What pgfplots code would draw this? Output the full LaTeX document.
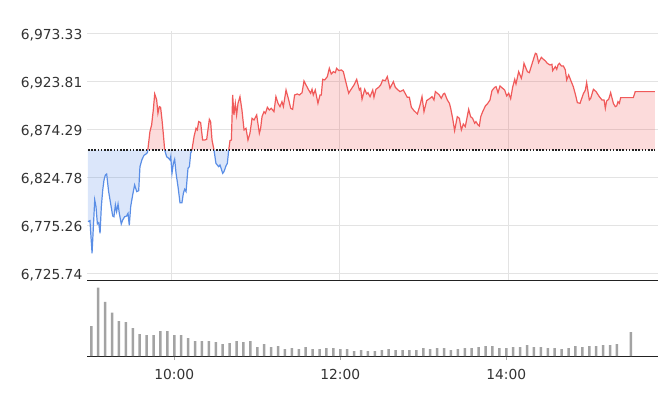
\documentclass[border=0pt]{standalone}
\usepackage{pgfplots}
\pgfplotsset{compat=1.18}
\usepackage{pgfplotstable}
\usepackage{fontspec}
\setmainfont{DejaVu Sans}

\definecolor{upred}{HTML}{F05A5A}
\definecolor{downblue}{HTML}{5A8EE6}
\definecolor{gridgray}{HTML}{E3E3E3}
\definecolor{bargray}{HTML}{A3A3A3}
\definecolor{labelgray}{HTML}{333333}
\definecolor{axisblack}{HTML}{222222}
\definecolor{tickgray}{HTML}{AAAAAA}
\newcommand\lbl{\fontsize{13.8}{16}\selectfont}

% minutes after 9:00, index value; each run starts and ends on the previous close
% (first row of a run is only there to close the fill)
\pgfplotstableread{
m v
0.7 6852.8
0.7 6778.8
2.1 6779.8
3.6 6746.1
5.5 6801.2
6.4 6794.3
7.4 6776.4
8.3 6777.7
9.3 6766.7
10.2 6794.3
11.2 6811.5
12.1 6821.8
13.1 6827.0
14.0 6828.0
15.4 6809.8
16.4 6801.2
18.3 6784.6
19.2 6783.9
20.2 6796.0
21.1 6789.1
22.1 6797.0
23.0 6787.4
24.4 6776.4
25.4 6780.5
26.8 6783.9
28.2 6784.6
29.2 6787.4
30.1 6775.0
31.1 6794.3
32.5 6806.3
33.9 6816.7
35.4 6809.8
36.8 6810.8
37.7 6835.6
39.2 6843.2
40.6 6847.3
42.0 6848.7
43.0 6850.1
43.3 6852.8
}\downA

\pgfplotstableread{
m v
43.3 6852.8
44.8 6871.8
46.0 6878.6
47.2 6894.1
48.2 6910.7
49.6 6904.5
50.5 6890.7
51.5 6897.6
52.4 6896.9
53.4 6883.8
54.3 6870.0
55.3 6852.8
}\upA

\pgfplotstableread{
m v
55.3 6852.8
56.7 6845.9
58.1 6844.2
59.1 6842.5
59.6 6845.9
60.5 6828.7
61.5 6839.0
62.4 6843.2
63.4 6828.7
64.8 6814.9
66.2 6798.4
67.6 6798.4
68.6 6808.0
69.5 6812.2
70.5 6809.8
71.9 6833.9
72.9 6835.6
73.8 6849.4
74.7 6852.8
}\downB

\pgfplotstableread{
m v
74.7 6852.8
76.2 6866.6
77.6 6875.2
78.5 6873.5
79.5 6882.1
80.9 6881.1
82.3 6863.1
83.8 6863.1
85.2 6863.8
86.1 6873.5
87.1 6884.5
88.0 6882.1
89.0 6863.1
90.4 6852.8
}\upB

\pgfplotstableread{
m v
90.4 6852.8
91.8 6839.0
93.7 6835.6
94.7 6837.3
96.6 6828.7
97.5 6830.4
99.0 6836.6
99.9 6839.0
100.9 6852.8
}\downC

\pgfplotstableread{
m v
404.3 6852.8
100.9 6852.8
101.8 6862.5
102.8 6863.1
103.7 6909.6
104.6 6889.0
105.6 6901.0
106.5 6889.0
107.5 6901.0
108.9 6907.9
110.3 6894.1
111.8 6873.5
113.2 6875.2
114.6 6863.1
116.0 6870.0
117.5 6885.5
118.9 6883.8
120.8 6889.0
122.7 6870.0
123.6 6875.2
124.6 6887.2
126.0 6892.4
127.0 6890.7
128.4 6896.9
129.8 6894.1
131.2 6895.9
133.1 6892.4
134.5 6907.9
136.0 6901.0
137.4 6897.6
138.8 6902.7
139.8 6897.6
141.7 6914.8
143.6 6904.5
145.0 6895.9
146.4 6894.8
147.8 6909.6
149.7 6910.7
151.2 6909.6
153.1 6912.0
154.5 6924.1
155.9 6920.0
157.8 6914.8
159.2 6911.4
160.2 6915.5
161.1 6909.6
162.5 6914.8
164.4 6901.0
165.9 6909.6
166.8 6909.6
167.8 6925.8
169.2 6925.1
171.1 6928.6
172.5 6937.2
173.9 6931.3
175.4 6933.7
176.8 6932.7
177.7 6937.2
179.2 6934.8
181.1 6935.5
182.5 6933.7
183.9 6925.1
186.3 6911.4
187.7 6914.8
190.1 6920.0
192.0 6925.8
193.9 6914.8
194.8 6916.5
195.8 6905.2
197.7 6915.5
199.1 6910.7
200.0 6912.0
201.5 6907.9
203.4 6914.8
204.3 6907.2
205.7 6915.5
207.6 6917.5
209.1 6920.0
210.5 6925.1
212.4 6924.4
213.8 6928.6
215.7 6916.5
218.1 6923.4
219.5 6917.5
221.4 6914.8
222.8 6913.1
225.2 6914.8
228.0 6907.2
229.5 6907.2
230.9 6896.9
232.8 6893.4
235.2 6890.0
237.1 6899.3
238.5 6907.9
239.9 6892.4
241.8 6903.8
244.2 6906.2
245.6 6907.9
247.0 6904.5
248.0 6913.1
249.4 6911.4
250.8 6909.6
252.2 6906.2
253.7 6910.7
254.6 6911.4
256.5 6904.5
258.0 6901.0
258.9 6895.9
260.3 6885.5
261.7 6872.8
263.6 6887.2
265.1 6885.5
266.5 6873.5
267.9 6879.7
269.3 6876.9
271.7 6894.8
273.1 6887.2
274.5 6885.5
276.0 6880.4
276.9 6882.1
278.4 6878.6
279.3 6877.6
280.3 6887.2
281.7 6892.4
283.6 6898.3
285.0 6900.3
286.9 6904.5
288.3 6914.1
290.2 6917.5
291.2 6918.2
292.6 6912.0
294.0 6918.9
295.9 6916.5
297.3 6914.8
298.8 6908.6
300.2 6911.4
301.6 6905.8
303.0 6917.5
304.5 6925.8
305.4 6921.0
307.3 6933.7
309.2 6926.9
310.1 6932.7
311.1 6942.3
313.5 6933.7
314.9 6932.7
317.3 6944.1
319.2 6952.7
320.1 6952.0
321.5 6943.0
323.4 6948.5
324.9 6946.5
326.3 6944.8
327.7 6942.3
329.6 6940.6
331.0 6941.3
331.5 6934.8
333.4 6938.9
334.4 6936.1
335.3 6940.6
336.3 6942.3
337.7 6939.6
339.1 6939.6
340.5 6935.5
341.5 6925.1
342.9 6930.3
344.3 6925.1
346.2 6918.2
347.6 6910.7
349.1 6901.7
351.0 6901.0
351.4 6902.7
353.3 6910.7
354.8 6914.8
355.7 6922.4
357.6 6904.5
358.6 6906.2
360.5 6915.5
362.4 6913.1
364.7 6907.9
366.6 6904.5
368.1 6904.5
369.0 6895.9
369.9 6903.4
371.4 6905.2
372.8 6912.0
374.7 6901.0
376.1 6897.6
377.1 6898.3
378.0 6902.7
379.0 6901.0
379.9 6906.9
388.9 6906.9
390.3 6913.1
404.3 6913.1
}\upC

% 5-minute volume bars (minutes after 9:00)
\pgfplotstableread{
m vol
0 30
5 68.3
10 54
15 43.3
20 35
25 34
30 28
35 22
40 21
45 21
50 25
55 25
60 21
65 21
70 18
75 15
80 15
85 15
90 14
95 12
100 13
105 15
110 14
115 15
120 9
125 12
130 9
135 10
140 7
145 8
150 7
155 9
160 7
165 7
170 8
175 8
180 7
185 7
190 5
195 6
200 5
205 5
210 6
215 7
220 6
225 6
230 6
235 6
240 8
245 7
250 8
255 8
260 6
265 7
270 8
275 8
280 9
285 10
290 10
295 8
300 8
305 9
310 9
315 11
320 9
325 9
330 8
335 8
340 7
345 8
350 10
355 9
360 10
365 10
370 11
375 11
380 12
390 24
}\vol

\begin{document}
\begin{tikzpicture}[x=1pt,y=1pt]
\path[use as bounding box] (0,0) rectangle (658,408);

\begin{axis}[
  at={(87pt,127pt)}, anchor=south west,
  scale only axis, width=571pt, height=250pt,
  xmin=0, xmax=406.5, ymin=6717.5, ymax=6975.7,
  xtick={60,180,300}, xticklabels={},
  ytick={6725.74,6775.26,6824.78,6874.29,6923.81,6973.33},
  yticklabels={{6,725.74},{6,775.26},{6,824.78},{6,874.29},{6,923.81},{6,973.33}},
  grid=major, major grid style={draw=gridgray, line width=1pt},
  axis line style={draw=none}, tick style={draw=none},
  yticklabel style={font=\lbl, text=labelgray, anchor=base east,
    inner sep=0pt, xshift=-4.5pt, yshift=-6pt},
]
\addplot[draw=none, fill=downblue, fill opacity=0.22] table {\downA};
\addplot[draw=none, fill=downblue, fill opacity=0.22] table {\downB};
\addplot[draw=none, fill=downblue, fill opacity=0.22] table {\downC};
\addplot[draw=none, fill=upred, fill opacity=0.22] table {\upA};
\addplot[draw=none, fill=upred, fill opacity=0.22] table {\upB};
\addplot[draw=none, fill=upred, fill opacity=0.22] table {\upC};

\addplot[downblue, line width=1.2pt, skip coords between index={0}{1}] table {\downA};
\addplot[downblue, line width=1.2pt] table {\downB};
\addplot[downblue, line width=1.2pt] table {\downC};
\addplot[upred, line width=1.2pt] table {\upA};
\addplot[upred, line width=1.2pt] table {\upB};
\addplot[upred, line width=1.2pt, skip coords between index={0}{1}] table {\upC};

% previous close
\addplot[axisblack, line width=2pt, dash pattern=on 1.6pt off 1.6pt]
  coordinates {(0.7,6852.8) (404.3,6852.8)};
\end{axis}

\begin{axis}[
  at={(87.3pt,52pt)}, anchor=south west,
  scale only axis, width=570.7pt, height=75pt,
  xmin=-2.9, xmax=409.7, ymin=0, ymax=75,
  axis x line=box, axis y line=none,
  x axis line style={draw=axisblack, line width=1pt},
  xtick={60,180,300}, xticklabels={10:00,12:00,14:00},
  xtick pos=bottom, xtick align=outside, major tick length=4pt,
  x tick style={draw=tickgray, line width=0.8pt},
  ytick=\empty,
  xticklabel style={font=\lbl, text=labelgray, anchor=north,
    inner sep=0pt, yshift=-9pt},
]
\addplot[ybar, bar width=2.5pt, fill=bargray, draw=none] table {\vol};
\end{axis}
\end{tikzpicture}
\end{document}
